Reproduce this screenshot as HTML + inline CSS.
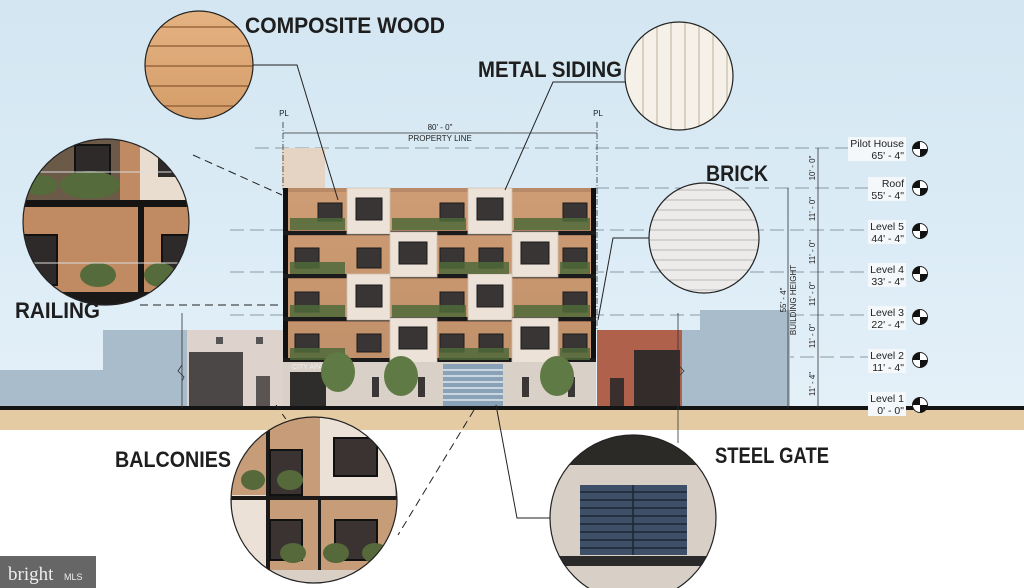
<!DOCTYPE html>
<html><head><meta charset="utf-8"><style>
html,body{margin:0;padding:0;width:1024px;height:588px;overflow:hidden;background:#fff}
svg{display:block}
.lbl{font-family:"Liberation Sans",sans-serif;font-weight:bold;fill:#1e1e1e}
.sm{font-family:"Liberation Sans",sans-serif;fill:#222}
</style></head><body>
<svg width="1024" height="588" viewBox="0 0 1024 588" xmlns="http://www.w3.org/2000/svg">
<defs>
<linearGradient id="sky" x1="0" y1="0" x2="0" y2="1">
<stop offset="0" stop-color="#d3e6f1"/><stop offset="0.6" stop-color="#dcecf6"/><stop offset="1" stop-color="#e4f0f8"/>
</linearGradient>
<linearGradient id="wood" x1="0" y1="0" x2="0" y2="1">
<stop offset="0" stop-color="#e6b383"/><stop offset="1" stop-color="#d39c68"/>
</linearGradient>
<linearGradient id="bw" x1="0" y1="0" x2="0" y2="1">
<stop offset="0" stop-color="#b98a68"/><stop offset="1" stop-color="#8a6248"/>
</linearGradient>
<clipPath id="c1"><circle cx="199" cy="65" r="54"/></clipPath>
<clipPath id="c2"><circle cx="679" cy="76" r="54"/></clipPath>
<clipPath id="c3"><circle cx="704" cy="238" r="55"/></clipPath>
<clipPath id="c4"><circle cx="106" cy="222" r="83"/></clipPath>
<clipPath id="c5"><circle cx="314" cy="500" r="83"/></clipPath>
<clipPath id="c6"><circle cx="633" cy="518" r="83"/></clipPath>
</defs>
<rect x="0" y="0" width="1024" height="408" fill="url(#sky)"/>
<g stroke="#8a9aa6" stroke-width="1" stroke-dasharray="14,6">
<line x1="255" y1="148" x2="905" y2="148"/>
<line x1="595" y1="188" x2="905" y2="188"/>
<line x1="230" y1="230" x2="905" y2="230"/>
<line x1="230" y1="272" x2="905" y2="272"/>
<line x1="230" y1="315" x2="905" y2="315"/>
<line x1="680" y1="357" x2="905" y2="357"/>
</g>
<rect x="0" y="370" width="110" height="38" fill="#a9bccb"/>
<rect x="103" y="330" width="90" height="78" fill="#a9bccb"/>
<rect x="680" y="330" width="110" height="78" fill="#a9bccb"/>
<rect x="700" y="310" width="90" height="30" fill="#a9bccb"/>
<rect x="187" y="330" width="98" height="78" fill="#ddd3cc"/>
<rect x="189" y="352" width="54" height="56" fill="#4a4746"/>
<rect x="256" y="376" width="14" height="32" fill="#5a5552"/>
<rect x="216" y="337" width="7" height="7" fill="#555"/><rect x="256" y="337" width="7" height="7" fill="#555"/>
<rect x="597" y="330" width="85" height="78" fill="#b0614c"/>
<rect x="634" y="350" width="46" height="58" fill="#332c2a"/>
<rect x="610" y="378" width="14" height="30" fill="#3a2f2c"/>
<rect x="282" y="148" width="43" height="40" fill="#e5d3c4"/>
<rect x="283" y="188" width="312" height="175" fill="url(#bw)"/>
<g fill="#d8a57a" opacity="0.7">
<rect x="288" y="192" width="59" height="38"/><rect x="390" y="192" width="47" height="38"/><rect x="437" y="192" width="31" height="38"/><rect x="512" y="192" width="46" height="38"/><rect x="558" y="192" width="33" height="38"/>
<rect x="288" y="236" width="102" height="38"/><rect x="437" y="236" width="75" height="38"/><rect x="558" y="236" width="33" height="38"/>
<rect x="288" y="279" width="59" height="38"/><rect x="390" y="279" width="78" height="38"/><rect x="512" y="279" width="79" height="38"/>
<rect x="288" y="322" width="102" height="38"/><rect x="437" y="322" width="75" height="38"/><rect x="558" y="322" width="33" height="38"/>
</g>
<rect x="283" y="188" width="5" height="175" fill="#111"/>
<rect x="591" y="188" width="5" height="175" fill="#111"/>
<g fill="#1c1b1b">
<rect x="283" y="231" width="313" height="4"/><rect x="283" y="274" width="313" height="4"/><rect x="283" y="317" width="313" height="4"/><rect x="283" y="358" width="313" height="4"/>
</g>
<g fill="#ece2d8" stroke="#cfc1b3" stroke-width="0.8">
<rect x="347" y="188" width="43" height="46"/><rect x="468" y="188" width="44" height="46"/>
<rect x="390" y="232" width="47" height="45"/><rect x="512" y="232" width="46" height="45"/>
<rect x="347" y="274" width="43" height="46"/><rect x="468" y="274" width="44" height="46"/>
<rect x="390" y="318" width="47" height="45"/><rect x="512" y="318" width="46" height="45"/>
</g>
<g fill="#3a3535" stroke="#1a1a1a" stroke-width="1">
<rect x="356" y="198" width="26" height="22"/><rect x="477" y="198" width="26" height="22"/>
<rect x="399" y="242" width="28" height="22"/><rect x="521" y="242" width="28" height="22"/>
<rect x="356" y="285" width="26" height="22"/><rect x="477" y="285" width="26" height="22"/>
<rect x="399" y="327" width="28" height="22"/><rect x="521" y="327" width="28" height="22"/>
<rect x="318" y="203" width="24" height="18"/><rect x="440" y="203" width="24" height="18"/><rect x="563" y="203" width="24" height="18"/>
<rect x="295" y="248" width="24" height="20"/><rect x="357" y="248" width="24" height="20"/><rect x="440" y="248" width="24" height="20"/><rect x="479" y="248" width="24" height="20"/><rect x="563" y="248" width="24" height="20"/>
<rect x="295" y="292" width="24" height="20"/><rect x="440" y="292" width="24" height="20"/><rect x="563" y="292" width="24" height="20"/>
<rect x="295" y="334" width="24" height="18"/><rect x="357" y="334" width="24" height="18"/><rect x="440" y="334" width="24" height="18"/><rect x="479" y="334" width="24" height="18"/><rect x="563" y="334" width="24" height="18"/>
</g>
<g fill="#4f6a3a" opacity="0.85">
<rect x="290" y="218" width="55" height="12"/><rect x="392" y="218" width="74" height="12"/><rect x="514" y="218" width="76" height="12"/>
<rect x="290" y="262" width="55" height="12"/><rect x="439" y="262" width="70" height="12"/><rect x="560" y="262" width="30" height="12"/>
<rect x="290" y="305" width="55" height="12"/><rect x="392" y="305" width="74" height="12"/><rect x="514" y="305" width="76" height="12"/>
<rect x="290" y="348" width="55" height="12"/><rect x="439" y="348" width="70" height="12"/><rect x="560" y="348" width="30" height="12"/>
</g>
<rect x="283" y="362" width="313" height="45" fill="#d9d0c7"/>
<rect x="290" y="372" width="36" height="35" fill="#2f2d2c"/>
<text x="292" y="369" class="sm" font-size="7" style="fill:#eee">CITY APARTI</text>
<rect x="443" y="364" width="60" height="43" fill="#8aa2b8"/>
<g stroke="#dfe7ee" stroke-width="1.5"><line x1="443" y1="370" x2="503" y2="370"/><line x1="443" y1="376" x2="503" y2="376"/><line x1="443" y1="382" x2="503" y2="382"/><line x1="443" y1="388" x2="503" y2="388"/><line x1="443" y1="394" x2="503" y2="394"/><line x1="443" y1="400" x2="503" y2="400"/></g>
<g fill="#3a3636"><rect x="372" y="377" width="7" height="20"/><rect x="418" y="377" width="7" height="20"/><rect x="522" y="377" width="7" height="20"/><rect x="568" y="377" width="7" height="20"/></g>
<g fill="#5f7a45"><ellipse cx="338" cy="372" rx="17" ry="20"/><ellipse cx="401" cy="376" rx="17" ry="20"/><ellipse cx="557" cy="376" rx="17" ry="20"/></g>
<rect x="0" y="406" width="1024" height="4" fill="#141414"/>
<rect x="0" y="410" width="1024" height="20" fill="#e4cba4"/>
<g stroke="#333" stroke-width="0.8" fill="none">
<line x1="283" y1="133" x2="597" y2="133"/>
<line x1="283" y1="122" x2="283" y2="190" stroke-dasharray="6,2,1,2"/>
<line x1="597" y1="122" x2="597" y2="330" stroke-dasharray="6,2,1,2"/>
<line x1="818" y1="148" x2="818" y2="408"/>
<line x1="788" y1="188" x2="788" y2="408"/>
<line x1="182" y1="313" x2="182" y2="408"/><path d="M182 365 l-4 6 l6 6 l-2 4" />
<line x1="678" y1="313" x2="678" y2="443"/><path d="M678 365 l6 6 l-6 6" />
</g>
<text x="440" y="130" class="sm" font-size="8" text-anchor="middle">80' - 0"</text>
<text x="440" y="141" class="sm" font-size="8" text-anchor="middle">PROPERTY LINE</text>
<text x="284" y="116" class="sm" font-size="8" text-anchor="middle">PL</text>
<text x="598" y="116" class="sm" font-size="8" text-anchor="middle">PL</text>
<g class="sm" font-size="8">
<text transform="translate(815,168) rotate(-90)" text-anchor="middle">10' - 0"</text>
<text transform="translate(815,209) rotate(-90)" text-anchor="middle">11' - 0"</text>
<text transform="translate(815,252) rotate(-90)" text-anchor="middle">11' - 0"</text>
<text transform="translate(815,294) rotate(-90)" text-anchor="middle">11' - 0"</text>
<text transform="translate(815,336) rotate(-90)" text-anchor="middle">11' - 0"</text>
<text transform="translate(815,384) rotate(-90)" text-anchor="middle">11' - 4"</text>
<text transform="translate(786,300) rotate(-90)" text-anchor="middle">55' - 4"</text>
<text transform="translate(796,300) rotate(-90)" text-anchor="middle">BUILDING HEIGHT</text>
</g>
<g fill="#f4f8fa">
<rect x="848" y="137" width="58" height="24"/><rect x="868" y="177" width="38" height="24"/><rect x="868" y="220" width="38" height="24"/><rect x="868" y="263" width="38" height="24"/><rect x="868" y="306" width="38" height="24"/><rect x="868" y="349" width="38" height="24"/><rect x="868" y="392" width="38" height="24"/>
</g>
<g class="sm" font-size="10.5" text-anchor="end">
<text x="904" y="147">Pilot House</text><text x="904" y="159">65' - 4"</text>
<text x="904" y="187">Roof</text><text x="904" y="199">55' - 4"</text>
<text x="904" y="230">Level 5</text><text x="904" y="242">44' - 4"</text>
<text x="904" y="273">Level 4</text><text x="904" y="285">33' - 4"</text>
<text x="904" y="316">Level 3</text><text x="904" y="328">22' - 4"</text>
<text x="904" y="359">Level 2</text><text x="904" y="371">11' - 4"</text>
<text x="904" y="402">Level 1</text><text x="904" y="414">0' - 0"</text>
</g>
<g>
<g transform="translate(920,149)"><circle r="7.5" fill="#fff" stroke="#222"/><path d="M0 0 V-7.5 A7.5 7.5 0 0 0 -7.5 0Z M0 0 H7.5 A7.5 7.5 0 0 1 0 7.5Z" fill="#111"/></g>
<g transform="translate(920,188)"><circle r="7.5" fill="#fff" stroke="#222"/><path d="M0 0 V-7.5 A7.5 7.5 0 0 0 -7.5 0Z M0 0 H7.5 A7.5 7.5 0 0 1 0 7.5Z" fill="#111"/></g>
<g transform="translate(920,231)"><circle r="7.5" fill="#fff" stroke="#222"/><path d="M0 0 V-7.5 A7.5 7.5 0 0 0 -7.5 0Z M0 0 H7.5 A7.5 7.5 0 0 1 0 7.5Z" fill="#111"/></g>
<g transform="translate(920,274)"><circle r="7.5" fill="#fff" stroke="#222"/><path d="M0 0 V-7.5 A7.5 7.5 0 0 0 -7.5 0Z M0 0 H7.5 A7.5 7.5 0 0 1 0 7.5Z" fill="#111"/></g>
<g transform="translate(920,317)"><circle r="7.5" fill="#fff" stroke="#222"/><path d="M0 0 V-7.5 A7.5 7.5 0 0 0 -7.5 0Z M0 0 H7.5 A7.5 7.5 0 0 1 0 7.5Z" fill="#111"/></g>
<g transform="translate(920,360)"><circle r="7.5" fill="#fff" stroke="#222"/><path d="M0 0 V-7.5 A7.5 7.5 0 0 0 -7.5 0Z M0 0 H7.5 A7.5 7.5 0 0 1 0 7.5Z" fill="#111"/></g>
<g transform="translate(920,405)"><circle r="7.5" fill="#fff" stroke="#222"/><path d="M0 0 V-7.5 A7.5 7.5 0 0 0 -7.5 0Z M0 0 H7.5 A7.5 7.5 0 0 1 0 7.5Z" fill="#111"/></g>
</g>
<g stroke="#222" stroke-width="1" fill="none">
<path d="M253 65 H297 L338 200"/>
<path d="M625 82 H553 L505 190"/>
<path d="M649 238 H613 L598 320"/>
<path d="M496 405 L517 518 H551"/>
<path d="M193 155 L282 195" stroke-dasharray="8,5"/>
<path d="M140 305 H282" stroke-dasharray="8,5"/>
<path d="M276 405 L290 425" stroke-dasharray="6,5"/>
<path d="M474 410 L398 535" stroke-dasharray="8,5"/>
</g>
<g clip-path="url(#c1)"><rect x="140" y="5" width="120" height="120" fill="url(#wood)"/>
<g stroke="#8a5a32" stroke-width="1.2"><line x1="140" y1="27" x2="260" y2="27"/><line x1="140" y1="46" x2="260" y2="46"/><line x1="140" y1="66" x2="260" y2="66"/><line x1="140" y1="86" x2="260" y2="86"/><line x1="140" y1="106" x2="260" y2="106"/></g></g>
<circle cx="199" cy="65" r="54" fill="none" stroke="#222" stroke-width="1.2"/>
<g clip-path="url(#c2)"><rect x="620" y="20" width="120" height="115" fill="#f5f1e8"/>
<g stroke="#cfc6b4" stroke-width="1.5"><line x1="643" y1="20" x2="643" y2="135"/><line x1="657" y1="20" x2="657" y2="135"/><line x1="671" y1="20" x2="671" y2="135"/><line x1="685" y1="20" x2="685" y2="135"/><line x1="699" y1="20" x2="699" y2="135"/><line x1="713" y1="20" x2="713" y2="135"/><line x1="727" y1="20" x2="727" y2="135"/></g></g>
<circle cx="679" cy="76" r="54" fill="none" stroke="#222" stroke-width="1.2"/>
<g clip-path="url(#c3)"><rect x="645" y="180" width="120" height="120" fill="#ecebea"/>
<g stroke="#a9a7a4" stroke-width="0.8">
<line x1="645" y1="190" x2="765" y2="190"/><line x1="645" y1="200" x2="765" y2="200"/><line x1="645" y1="210" x2="765" y2="210"/><line x1="645" y1="220" x2="765" y2="220"/><line x1="645" y1="230" x2="765" y2="230"/><line x1="645" y1="240" x2="765" y2="240"/><line x1="645" y1="250" x2="765" y2="250"/><line x1="645" y1="260" x2="765" y2="260"/><line x1="645" y1="270" x2="765" y2="270"/><line x1="645" y1="280" x2="765" y2="280"/><line x1="645" y1="290" x2="765" y2="290"/>
</g></g>
<circle cx="704" cy="238" r="55" fill="none" stroke="#222" stroke-width="1.2"/>
<g clip-path="url(#c4)"><rect x="20" y="135" width="175" height="175" fill="#c08a62"/>
<rect x="20" y="135" width="100" height="68" fill="#6b5a48"/>
<rect x="140" y="135" width="60" height="68" fill="#e9ddd0"/>
<rect x="75" y="145" width="35" height="32" fill="#2d2a29" stroke="#111" stroke-width="2"/>
<rect x="158" y="145" width="25" height="32" fill="#2d2a29"/>
<rect x="20" y="200" width="175" height="7" fill="#151413"/>
<rect x="138" y="200" width="6" height="110" fill="#151413"/>
<rect x="22" y="235" width="35" height="50" fill="#2d2a29" stroke="#111" stroke-width="2"/>
<rect x="162" y="235" width="35" height="50" fill="#2d2a29" stroke="#111" stroke-width="2"/>
<g fill="#556b3b"><ellipse cx="90" cy="185" rx="30" ry="14"/><ellipse cx="98" cy="275" rx="18" ry="12"/><ellipse cx="160" cy="275" rx="16" ry="12"/><ellipse cx="40" cy="185" rx="18" ry="10"/></g>
<g stroke="#ddd" stroke-width="1"><line x1="20" y1="172" x2="195" y2="172"/><line x1="20" y1="263" x2="195" y2="263"/></g>
<rect x="20" y="292" width="175" height="18" fill="#1a1918"/></g>
<circle cx="106" cy="222" r="83" fill="none" stroke="#222" stroke-width="1.2"/>
<g clip-path="url(#c5)"><rect x="225" y="415" width="180" height="175" fill="#c79c78"/>
<rect x="320" y="418" width="75" height="80" fill="#ece1d6"/>
<rect x="232" y="495" width="35" height="90" fill="#ece1d6"/>
<rect x="266" y="418" width="4" height="170" fill="#1b1a19"/>
<rect x="318" y="498" width="3" height="90" fill="#1b1a19"/>
<rect x="334" y="438" width="43" height="38" fill="#3a3332" stroke="#111" stroke-width="2"/>
<rect x="270" y="450" width="32" height="45" fill="#3a3332" stroke="#111" stroke-width="2"/>
<rect x="270" y="520" width="32" height="40" fill="#3a3332" stroke="#111" stroke-width="2"/>
<rect x="335" y="520" width="42" height="40" fill="#3a3332" stroke="#111" stroke-width="2"/>
<g fill="#55693a"><ellipse cx="253" cy="480" rx="12" ry="10"/><ellipse cx="290" cy="480" rx="13" ry="10"/><ellipse cx="293" cy="553" rx="13" ry="10"/><ellipse cx="336" cy="553" rx="13" ry="10"/><ellipse cx="375" cy="553" rx="13" ry="10"/></g>
<rect x="225" y="496" width="180" height="4" fill="#1b1a19"/>
<rect x="225" y="570" width="180" height="20" fill="#d9cfc5"/></g>
<circle cx="314" cy="500" r="83" fill="none" stroke="#222" stroke-width="1.2"/>
<g clip-path="url(#c6)"><rect x="545" y="430" width="180" height="180" fill="#d8d0c6"/>
<rect x="545" y="430" width="180" height="35" fill="#2c2a27"/>
<rect x="580" y="485" width="107" height="70" fill="#3e5068"/>
<g stroke="#1d2634" stroke-width="1.5"><line x1="580" y1="492" x2="687" y2="492"/><line x1="580" y1="500" x2="687" y2="500"/><line x1="580" y1="508" x2="687" y2="508"/><line x1="580" y1="516" x2="687" y2="516"/><line x1="580" y1="524" x2="687" y2="524"/><line x1="580" y1="532" x2="687" y2="532"/><line x1="580" y1="540" x2="687" y2="540"/><line x1="580" y1="548" x2="687" y2="548"/><line x1="633" y1="485" x2="633" y2="555"/></g>
<rect x="545" y="556" width="180" height="10" fill="#2a2a2a"/></g>
<circle cx="633" cy="518" r="83" fill="none" stroke="#222" stroke-width="1.2"/>
<g class="lbl" font-size="22">
<text x="245" y="33" textLength="200" lengthAdjust="spacingAndGlyphs">COMPOSITE WOOD</text>
<text x="478" y="77" textLength="144" lengthAdjust="spacingAndGlyphs">METAL SIDING</text>
<text x="706" y="181" textLength="62" lengthAdjust="spacingAndGlyphs">BRICK</text>
<text x="15" y="318" textLength="85" lengthAdjust="spacingAndGlyphs">RAILING</text>
<text x="115" y="467" textLength="116" lengthAdjust="spacingAndGlyphs">BALCONIES</text>
<text x="715" y="463" textLength="114" lengthAdjust="spacingAndGlyphs">STEEL GATE</text>
</g>
<rect x="0" y="556" width="96" height="32" fill="#666"/>
<text x="8" y="580" font-family="Liberation Serif,serif" font-size="19" fill="#eee">bright</text>
<text x="64" y="580" font-family="Liberation Sans,sans-serif" font-size="9" fill="#eee">MLS</text>
</svg>
</body></html>
